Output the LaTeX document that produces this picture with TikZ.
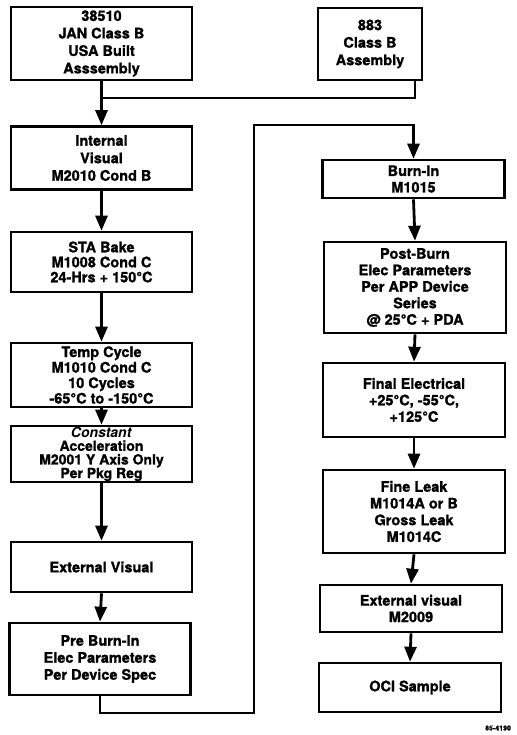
\documentclass[tikz,border=0pt]{standalone}
\usepackage{fontspec}
\setmainfont{TeX Gyre Heros}[BoldFeatures={FakeBold=1.2}]
\usetikzlibrary{arrows.meta}
\begin{document}
\begin{tikzpicture}[x=1pt,y=-1pt,
  box/.style={draw, line width=2.6pt, align=center, inner sep=0pt,
    font=\fontsize{14.5}{#1}\selectfont\bfseries},
  box/.default=16.5,
  lbox/.style={box=#1, minimum width=181pt},
  lbox/.default=16.5,
  rbox/.style={box=#1, minimum width=182pt},
  rbox/.default=16.5,
  conn/.style={line width=2.8pt, line join=miter},
  arr/.style={conn, -{Triangle[width=12pt,length=15pt]}}]
\useasboundingbox (0,0) rectangle (516,735);
% left column
\node[lbox=17.5, minimum height=73pt] (b1) at (101.5,43.5) {38510\\JAN Class B\\USA Built\\Asssembly};
\node[box=17.5, minimum width=104pt, minimum height=72pt] (b883) at (370,44) {883\\Class B\\Assembly};
\node[lbox=17.5, minimum height=63pt] (iv) at (101.5,158) {Internal\\Visual\\M2010 Cond B};
\node[lbox=15, minimum height=60pt] (sta) at (101.5,262) {STA Bake\\M1008 Cond C\\24-Hrs + 150°C};
\node[lbox=15.5, minimum height=64pt] (tc) at (101.5,375) {Temp Cycle\\M1010 Cond C\\10 Cycles\\-65°C to -150°C};
\node[lbox=13.6, minimum height=56pt, font=\fontsize{14}{13.6}\selectfont\bfseries] (ca) at (101.5,454) {\textit{Constant}\\Acceleration\\M2001 Y Axis Only\\Per Pkg Reg};
\node[lbox, minimum height=50pt] (ev) at (101.5,567) {External Visual};
\node[lbox=17, minimum height=72pt] (pb) at (100,659) {Pre Burn-In\\Elec Parameters\\Per Device Spec};
% right column
\node[rbox, minimum height=38pt] (bi) at (413.5,179) {Burn-In\\M1015};
\node[rbox, minimum height=91pt] (pbe) at (415,287.5) {Post-Burn\\Elec Parameters\\Per APP Device\\Series\\@ 25°C + PDA};
\node[rbox, minimum height=74pt] (fe) at (414,400) {Final Electrical\\+25°C, -55°C,\\+125°C};
\node[rbox=16.7, minimum height=83pt] (fl) at (414,511.5) {Fine Leak\\M1014A or B\\Gross Leak\\M1014C};
\node[rbox, minimum height=47pt] (ev2) at (411,608.5) {External visual\\M2009};
\node[rbox, minimum height=49pt] (oci) at (410,687.5) {OCI Sample};
\node[font=\fontsize{7}{8}\selectfont\bfseries, anchor=west, inner sep=0pt] (lab) at (485,728) {85-4190};
% connectors
\coordinate (j) at (b1.south |- 0,98);
\coordinate (c883) at (415,80);
\draw[conn] (b1.south) -- (j);
\draw[conn] (c883) -- (c883 |- j) -- (j);
\draw[arr] (j) -- (iv.north);
\draw[arr] (iv.south) -- (sta.north);
\draw[arr] (sta.south) -- (tc.north);
\draw[arr] (tc.south) -- (ca.north);
\draw[arr] (ca.south) -- (ev.north);
\draw[arr] (ev.south) -- (pb.north);
\coordinate (l1) at (pb.south |- 0,713);
\coordinate (l2) at (254,713);
\coordinate (l3) at (254,125);
\coordinate (l4) at (bi.north |- 0,125);
\draw[arr] (pb.south) -- (l1) -- (l2) -- (l3) -- (l4) -- (bi.north);
\draw[arr] (bi.south) -- (pbe.north);
\draw[arr] (pbe.south) -- (fe.north);
\draw[arr] (fe.south) -- (fl.north);
\draw[arr] (fl.south) -- (ev2.north);
\draw[arr] (ev2.south) -- (oci.north);
\end{tikzpicture}
\end{document}
